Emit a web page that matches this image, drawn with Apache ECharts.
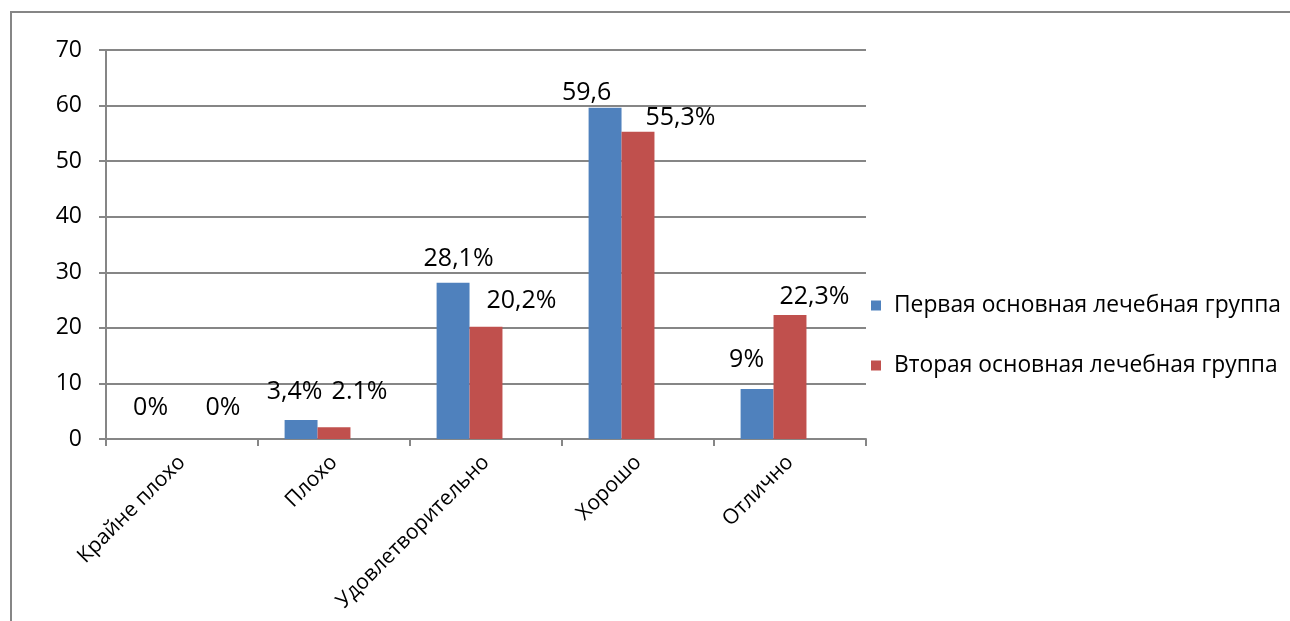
<!DOCTYPE html>
<html>
<head>
<meta charset="utf-8">
<script src="https://cdn.jsdelivr.net/npm/echarts@6/dist/echarts.min.js"></script>
<style>
  html, body { margin: 0; padding: 0; background: #ffffff; }
  #chart { width: 1290px; height: 621px; }
</style>
</head>
<body>
<div id="chart"></div>
<script>
// Оценки лечения по группам
const categories = ['Крайне плохо', 'Плохо', 'Удовлетворительно', 'Хорошо', 'Отлично'];
const seriesNames = ['Первая основная лечебная группа', 'Вторая основная лечебная группа'];
const firstGroup = [0, 3.4, 28.1, 59.6, 9];
const secondGroup = [0, 2.1, 20.2, 55.3, 22.3];
const firstLabels = ['0%', '3,4%', '28,1%', '59,6', '9%'];
const secondLabels = ['0%', '2.1%', '20,2%', '55,3%', '22,3%'];
const yTicks = [0, 10, 20, 30, 40, 50, 60, 70];

// Label nudges (px) relative to the top of each bar
const firstShift = [[1.5, -19], [-6.5, -15.6], [5.5, -11.8], [-18.5, -2.8], [-10.5, -17]];
const secondShift = [[41, -19], [25.5, -22.8], [35.5, -13.7], [42.5, -1.7], [24.5, -6.1]];

const FONT = 'Open Sans';
const GRAY = '#868686';
const BLUE = '#4F81BD';
const RED = '#C0504D';

function barData(values, labels, shifts) {
  return values.map((v, i) => ({
    value: v,
    label: { formatter: labels[i], offset: shifts[i] }
  }));
}

const chart = echarts.init(document.getElementById('chart'), null, { renderer: 'canvas' });

const labelStyle = {
  show: true,
  position: 'top',
  distance: 0,
  color: '#000',
  fontFamily: FONT,
  fontSize: 25
};

chart.setOption({
  animation: false,
  backgroundColor: '#ffffff',
  graphic: [{
    type: 'rect',
    shape: { x: 11, y: 12, width: 1320, height: 700 },
    style: { fill: 'none', stroke: GRAY, lineWidth: 2 },
    silent: true
  }],
  grid: { left: 106, right: 424, top: 50, bottom: 182, containLabel: false },
  legend: {
    data: seriesNames,
    orient: 'vertical',
    left: 866,
    top: 289,
    itemWidth: 10,
    itemHeight: 10,
    itemGap: 37,
    icon: 'rect',
    textStyle: { fontFamily: FONT, fontSize: 22.8, color: '#000', padding: [0, 0, 0, 8] }
  },
  xAxis: {
    type: 'category',
    data: categories,
    boundaryGap: true,
    axisLine: { lineStyle: { color: GRAY, width: 2 } },
    axisTick: { show: true, length: 7, alignWithLabel: false, lineStyle: { color: GRAY, width: 2 } },
    axisLabel: {
      rotate: 45,
      margin: 20,
      interval: 0,
      color: '#000',
      fontFamily: FONT,
      fontSize: 21
    }
  },
  yAxis: {
    type: 'value',
    min: yTicks[0],
    max: yTicks[yTicks.length - 1],
    interval: yTicks[1] - yTicks[0],
    axisLine: { show: true, lineStyle: { color: GRAY, width: 2 } },
    axisTick: { show: true, length: 7, lineStyle: { color: GRAY, width: 2 } },
    axisLabel: { margin: 24, color: '#000', fontFamily: FONT, fontSize: 23 },
    splitLine: { show: true, lineStyle: { color: GRAY, width: 2 } }
  },
  series: [
    {
      name: seriesNames[0],
      type: 'bar',
      barGap: '0%',
      barCategoryGap: '35%',
      itemStyle: { color: BLUE },
      label: labelStyle,
      data: barData(firstGroup, firstLabels, firstShift)
    },
    {
      name: seriesNames[1],
      type: 'bar',
      barGap: '0%',
      barCategoryGap: '35%',
      itemStyle: { color: RED },
      label: labelStyle,
      data: barData(secondGroup, secondLabels, secondShift)
    },
    {
      // empty third slot keeps the pair left of each category centre
      name: 'pad',
      type: 'bar',
      barGap: '0%',
      barCategoryGap: '35%',
      data: categories.map(() => null)
    }
  ]
});
</script>
</body>
</html>
